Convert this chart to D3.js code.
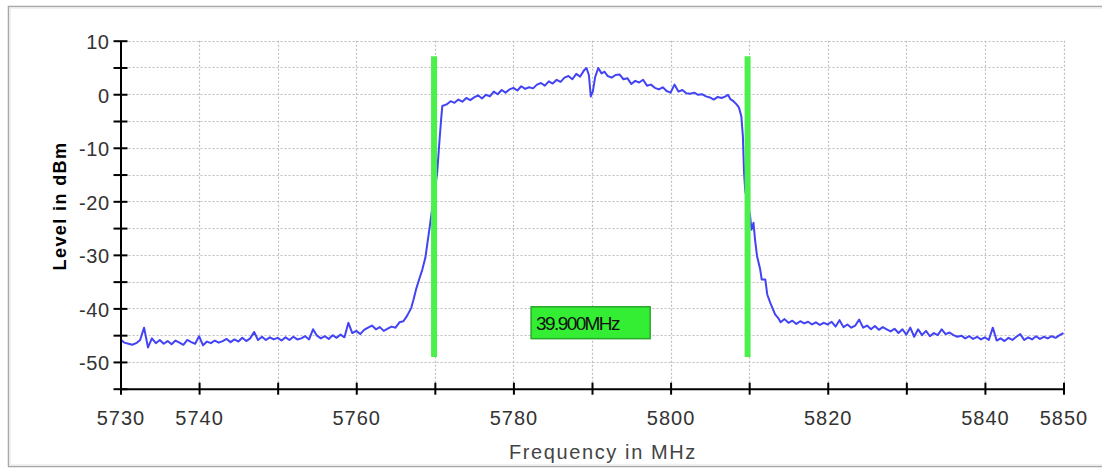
<!DOCTYPE html>
<html>
<head>
<meta charset="utf-8">
<script src="https://cdn.jsdelivr.net/npm/d3@7"></script>
<style>
  html, body { margin: 0; padding: 0; background: #fff; }
  svg { display: block; }
</style>
</head>
<body>
<svg id="chart" width="1102" height="468"></svg>
<script>
// ---- data ----
const freqMHz = [
  5730.0,5730.5,5731.0,5731.5,5732.0,5732.5,5733.0,5733.5,5734.0,5734.5,
  5735.0,5735.5,5736.0,5736.5,5737.0,5737.5,5738.0,5738.5,5739.0,5739.5,
  5740.0,5740.5,5741.0,5741.5,5742.0,5742.5,5743.0,5743.5,5744.0,5744.5,
  5745.0,5745.5,5746.0,5746.5,5747.0,5747.5,5748.0,5748.5,5749.0,5749.5,
  5750.0,5750.5,5751.0,5751.5,5752.0,5752.5,5753.0,5753.5,5754.0,5754.5,
  5755.0,5755.5,5756.0,5756.5,5757.0,5757.5,5758.0,5758.5,5759.0,5759.5,
  5760.0,5760.5,5761.0,5761.5,5762.0,5762.5,5763.0,5763.5,5764.0,5764.5,
  5765.0,5765.5,5766.0,5766.5,5767.0,5767.3,5767.6,5768.0,5768.4,5768.8,
  5769.3,5769.6,5770.0,5770.3,5770.6,5770.8,5770.95,5771.5,5772.0,5772.5,
  5773.0,5773.5,5774.0,5774.5,5775.0,5775.5,5776.0,5776.5,5777.0,5777.5,
  5778.0,5778.5,5779.0,5779.5,5780.0,5780.5,5781.0,5781.5,5782.0,5782.5,
  5783.0,5783.5,5784.0,5784.5,5785.0,5785.5,5786.0,5786.5,5787.0,5787.5,
  5788.0,5788.5,5789.0,5789.3,5789.6,5789.85,5790.1,5790.4,5790.8,5791.2,
  5791.6,5792.0,5792.5,5793.0,5793.5,5794.0,5794.5,5795.0,5795.5,5796.0,
  5796.5,5797.0,5797.5,5798.0,5798.5,5799.0,5799.5,5800.0,5800.5,5801.0,
  5801.5,5802.0,5802.5,5803.0,5803.5,5804.0,5804.5,5805.0,5805.5,5806.0,
  5806.5,5807.0,5807.3,5807.6,5808.0,5808.4,5808.7,5809.0,5809.2,5809.35,
  5809.5,5809.8,5810.1,5810.3,5810.55,5810.75,5811.0,5811.4,5811.6,5812.05,
  5812.3,5812.7,5813.3,5813.7,5814.0,5814.5,5815.0,5815.5,5816.0,5816.5,
  5817.0,5817.5,5818.0,5818.5,5819.0,5819.5,5820.0,5820.5,5821.0,5821.5,
  5822.0,5822.5,5823.0,5823.5,5824.0,5824.5,5825.0,5825.5,5826.0,5826.5,
  5827.0,5827.5,5828.0,5828.5,5829.0,5829.5,5830.0,5830.5,5831.0,5831.5,
  5832.0,5832.5,5833.0,5833.5,5834.0,5834.5,5835.0,5835.5,5836.0,5836.5,
  5837.0,5837.5,5838.0,5838.5,5839.0,5839.5,5840.0,5840.5,5841.0,5841.5,
  5842.0,5842.5,5843.0,5843.5,5844.0,5844.5,5845.0,5845.5,5846.0,5846.5,
  5847.0,5847.5,5848.0,5848.5,5849.0,5849.5,5850.0
];
const levelDbm = [
  -45.8,-46.4,-46.6,-46.8,-46.5,-45.9,-43.6,-47.3,-45.6,-46.5,
  -45.9,-46.6,-46.1,-46.7,-46.0,-46.4,-46.8,-45.9,-46.3,-46.6,
  -45.2,-46.9,-46.2,-46.5,-46.0,-46.4,-46.1,-45.7,-46.3,-45.8,
  -46.2,-45.5,-46.1,-45.6,-44.4,-45.9,-45.3,-45.9,-45.4,-45.8,
  -45.5,-46.0,-45.4,-45.9,-45.3,-45.8,-45.6,-45.2,-45.8,-43.9,
  -45.1,-45.6,-45.2,-45.7,-45.0,-45.5,-44.9,-45.4,-42.7,-44.6,
  -44.2,-44.8,-44.0,-43.6,-43.2,-43.9,-43.5,-44.2,-43.8,-43.4,
  -43.6,-42.6,-42.4,-41.3,-39.9,-38.3,-36.5,-34.6,-32.8,-30.5,
  -25.3,-22.0,-18.0,-14.6,-8.5,-4.7,-2.2,-1.9,-1.3,-1.6,
  -1.0,-1.4,-0.7,-1.1,-0.6,-0.2,-0.8,-0.1,-0.4,0.5,
  0.0,0.8,0.3,0.9,1.2,0.7,1.5,1.0,1.3,1.1,
  1.8,2.1,1.6,2.4,2.0,2.7,2.3,3.1,3.4,2.8,
  3.8,3.3,4.5,4.9,3.6,-0.4,0.5,3.2,4.9,3.9,
  4.2,3.4,3.1,3.6,3.7,2.8,3.0,1.9,2.5,2.2,
  2.7,1.6,1.8,1.2,0.9,1.3,0.6,0.3,1.8,0.5,
  0.8,0.2,0.1,0.3,-0.1,0.0,-0.4,-0.6,-1.0,-0.5,
  -0.7,-0.4,-0.1,-0.9,-1.3,-1.9,-2.5,-4.1,-7.8,-14.7,
  -18.0,-20.5,-22.5,-25.3,-24.0,-27.2,-30.2,-32.7,-34.6,-34.6,
  -37.4,-39.0,-41.1,-41.8,-42.6,-42.0,-42.7,-42.3,-42.9,-42.4,
  -42.8,-42.5,-43.0,-42.6,-43.1,-42.7,-43.0,-42.5,-43.4,-42.2,
  -43.5,-43.0,-43.6,-43.2,-42.1,-43.6,-43.2,-43.9,-43.3,-44.0,
  -43.5,-43.9,-44.3,-43.8,-44.6,-43.9,-44.9,-43.6,-45.3,-43.9,
  -45.0,-44.2,-45.2,-44.6,-45.0,-43.9,-44.8,-44.5,-45.0,-45.3,
  -45.1,-45.6,-45.2,-45.7,-45.3,-45.8,-45.4,-45.9,-43.6,-46.0,
  -45.6,-46.1,-45.5,-45.9,-45.3,-44.8,-45.9,-45.4,-45.8,-45.2,
  -45.7,-45.3,-45.6,-45.2,-45.5,-45.0,-44.6
];
const markerFreqs = [5769.9, 5809.8];
const markerRange = [7.1, -49.1];
const markerLabel = "39.900MHz";
const markerLabelBox = [5782.25, 5797.4, -39.7, -45.65]; // f0, f1, top, bottom in data units
const xTicks = [5730,5740,5750,5760,5770,5780,5790,5800,5810,5820,5830,5840,5850];
const xTickLabels = ["5730","5740","","5760","","5780","","5800","","5820","","5840","5850"];
const yTicks = [-55,-50,-45,-40,-35,-30,-25,-20,-15,-10,-5,0,5,10];
const yTickLabels = [10,0,-10,-20,-30,-40,-50];
const yGrid = [-50,-45,-40,-35,-30,-25,-20,-15,-10,-5,0,5,10];
const xGrid = [5740,5750,5760,5770,5780,5790,5800,5810,5820,5830,5840,5850];
const xTitle = "Frequency in MHz";
const yTitle = "Level in dBm";

// ---- chart ----
const svg = d3.select("#chart");
const x = d3.scaleLinear().domain([5730, 5850]).range([120.5, 1063.5]);
const y = d3.scaleLinear().domain([-55, 10]).range([388.7, 40.7]);

// outer frame
svg.append("rect").attr("x", 8.5).attr("y", 6.5).attr("width", 1110).attr("height", 460)
  .attr("fill", "#fff").attr("stroke", "#a8a8a8").attr("stroke-width", 1.5);
svg.append("rect").attr("x", 10).attr("y", 8).attr("width", 1110).attr("height", 457)
  .attr("fill", "none").attr("stroke", "#ececec").attr("stroke-width", 1.5);

// grid
const grid = svg.append("g").attr("stroke", "#bdbdbd").attr("stroke-width", 1.2)
  .attr("stroke-dasharray", "2,2");
grid.selectAll("line.h").data(yGrid).join("line").attr("class", "h")
  .attr("x1", x(5730)).attr("x2", x(5850))
  .attr("y1", d => Math.round(y(d)) + 0.5).attr("y2", d => Math.round(y(d)) + 0.5);
grid.selectAll("line.v").data(xGrid).join("line").attr("class", "v")
  .attr("y1", y(10)).attr("y2", y(-55))
  .attr("x1", d => Math.round(x(d)) + 0.5).attr("x2", d => Math.round(x(d)) + 0.5);

// trace
const pts = freqMHz.map((f, i) => [f, levelDbm[i]]);
svg.append("path").datum(pts)
  .attr("fill", "none").attr("stroke", "#4343f6").attr("stroke-width", 2)
  .attr("stroke-linejoin", "round")
  .attr("d", d3.line().x(d => x(d[0])).y(d => y(d[1])));

// markers
svg.selectAll("line.marker").data(markerFreqs).join("line").attr("class", "marker")
  .attr("x1", d => x(d)).attr("x2", d => x(d))
  .attr("y1", y(markerRange[0])).attr("y2", y(markerRange[1]))
  .attr("stroke", "#4cf04c").attr("stroke-width", 6);

// marker label
const lb = svg.append("g");
const bx0 = x(markerLabelBox[0]), bx1 = x(markerLabelBox[1]);
const by0 = y(markerLabelBox[2]), by1 = y(markerLabelBox[3]);
lb.append("rect")
  .attr("x", bx0).attr("y", by0).attr("width", bx1 - bx0).attr("height", by1 - by0)
  .attr("fill", "#33ee33").attr("stroke", "#2aa62a").attr("stroke-width", 1.5);
lb.append("text")
  .attr("x", bx0 + 5).attr("y", by0 + 23)
  .attr("font-family", "Liberation Sans, Arial, sans-serif").attr("font-size", 19)
  .attr("letter-spacing", "-1.6px").attr("fill", "#111")
  .text(markerLabel);

// axes
const axisColor = "#000";
const xAxis = d3.axisBottom(x).tickValues(xTicks)
  .tickFormat((d, i) => xTickLabels[i]).tickSizeInner(6).tickSizeOuter(0).tickPadding(16);
const gx = svg.append("g").attr("transform", `translate(0,${y(-55)})`).call(xAxis);
gx.select(".domain").attr("stroke", axisColor).attr("stroke-width", 2);
gx.selectAll(".tick line").attr("stroke", axisColor).attr("stroke-width", 2).attr("y1", -6);
gx.selectAll(".tick text").attr("font-family", "Liberation Sans, Arial, sans-serif")
  .attr("font-size", 20).attr("letter-spacing", "1px").attr("fill", "#333");

const yAxis = d3.axisLeft(y).tickValues(yTicks)
  .tickFormat(d => yTickLabels.includes(d) ? String(d) : "").tickSizeInner(7).tickSizeOuter(0).tickPadding(4);
const gy = svg.append("g").attr("transform", `translate(${x(5730)},0)`).call(yAxis);
gy.select(".domain").attr("stroke", axisColor).attr("stroke-width", 2);
gy.selectAll(".tick line").attr("stroke", axisColor).attr("stroke-width", 2).attr("x2", 7).attr("x1", -7);
gy.selectAll(".tick text").attr("font-family", "Liberation Sans, Arial, sans-serif")
  .attr("font-size", 20).attr("letter-spacing", "0.5px").attr("fill", "#333")
  .attr("dy", "0.4em");

// titles
svg.append("text").attr("x", 603).attr("y", 459).attr("text-anchor", "middle")
  .attr("font-family", "Liberation Sans, Arial, sans-serif").attr("font-size", 20)
  .attr("letter-spacing", "1.6px").attr("fill", "#444").text(xTitle);
svg.append("text").attr("transform", "translate(66,206) rotate(-90)")
  .attr("text-anchor", "middle")
  .attr("font-family", "Liberation Sans, Arial, sans-serif").attr("font-size", 18)
  .attr("font-weight", "bold").attr("letter-spacing", "1.4px").attr("fill", "#000").text(yTitle);
</script>
</body>
</html>
